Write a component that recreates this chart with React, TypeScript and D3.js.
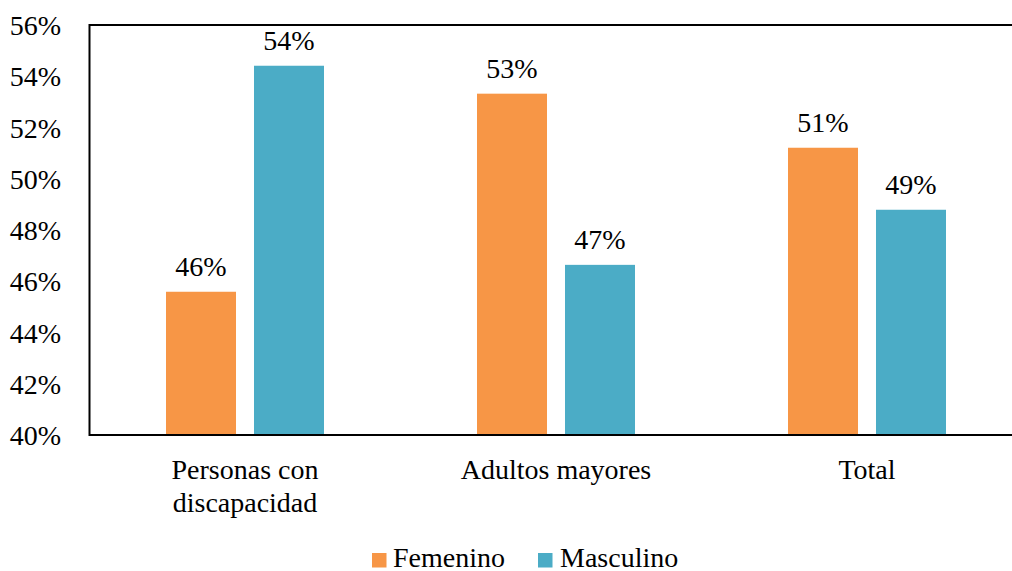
import React, { useEffect, useRef } from "react";
import * as d3 from "d3";

const categories: string[][] = [["Personas con", "discapacidad"], ["Adultos mayores"], ["Total"]];
const categoryKeys = ["Personas con discapacidad", "Adultos mayores", "Total"];
const seriesNames = ["Femenino", "Masculino"];
const femenino = [0.4559, 0.5332, 0.5121];
const masculino = [0.5441, 0.4664, 0.4879];
const yTicks = [0.40, 0.42, 0.44, 0.46, 0.48, 0.50, 0.52, 0.54, 0.56];
const colors = ["#F79646", "#4BACC6"];

const W = 1012, H = 571;
const plotLeft = 89.5, plotTop = 25, plotBottom = 435;

export default function App() {
  const ref = useRef<SVGSVGElement>(null);
  const y = d3.scaleLinear().domain([0.40, 0.56]).range([plotBottom, plotTop]);
  const x0 = d3.scaleBand<string>().domain(categoryKeys).range([plotLeft, plotLeft + 933]).padding(0);
  const bw0 = x0.bandwidth();
  const x1 = d3.scaleBand<string>().domain(seriesNames).range([bw0 * 0.246, bw0 * 0.754]).paddingInner(0.2045).paddingOuter(0);
  const series = [femenino, masculino];
  const fmt = (v: number) => `${Math.round(v * 100)}%`;

  useEffect(() => {
    if (!ref.current) return;
    d3.select(ref.current).selectAll<SVGTextElement, unknown>("text").each(function () {
      this.style.setProperty("font-family", "Liberation Serif", "important");
      this.style.setProperty("font-size", "28px", "important");
    });
  }, []);

  return (
    <svg id="chart" ref={ref} width={W} height={H} style={{ position: "absolute", left: 0, top: 0, background: "#fff" }}>
      <style>{`#chart text, #chart tspan { font-family: "Liberation Serif" !important; font-size: 28px !important; fill: #000; }`}</style>
      {yTicks.map((t) => (
        <text key={t} x={61} y={y(t) + 10} textAnchor="end" fontFamily="Liberation Serif" fontSize={28}>{fmt(t)}</text>
      ))}
      {categoryKeys.map((c, i) => (
        <g key={c} transform={`translate(${x0(c)},0)`}>
          {seriesNames.map((s, j) => {
            const v = series[j][i];
            const bx = x1(s)!;
            return (
              <g key={s}>
                <rect x={bx} y={y(v)} width={x1.bandwidth()} height={plotBottom - y(v)} fill={colors[j]} />
                <text x={bx + x1.bandwidth() / 2} y={y(v) - 16} textAnchor="middle" fontFamily="Liberation Serif" fontSize={28}>{fmt(v)}</text>
              </g>
            );
          })}
        </g>
      ))}
      <line x1={plotLeft} x2={W} y1={plotTop} y2={plotTop} stroke="#000" strokeWidth={2} />
      <line x1={plotLeft} x2={plotLeft} y1={plotTop - 1} y2={plotBottom + 1} stroke="#000" strokeWidth={2} />
      <line x1={plotLeft} x2={W} y1={plotBottom} y2={plotBottom} stroke="#000" strokeWidth={2} />
      {categoryKeys.map((c, i) => (
        <text key={c} x={x0(c)! + bw0 / 2} textAnchor="middle" fontFamily="Liberation Serif" fontSize={28}>
          {categories[i].map((line, k) => (
            <tspan key={k} x={x0(c)! + bw0 / 2} y={479 + k * 33}>{line}</tspan>
          ))}
        </text>
      ))}
      <g>
        <rect x={372} y={553} width={14.5} height={14.5} fill={colors[0]} />
        <text x={393} y={567} fontFamily="Liberation Serif" fontSize={28}>{seriesNames[0]}</text>
        <rect x={538} y={553} width={14.5} height={14.5} fill={colors[1]} />
        <text x={560} y={567} fontFamily="Liberation Serif" fontSize={28}>{seriesNames[1]}</text>
      </g>
    </svg>
  );
}
